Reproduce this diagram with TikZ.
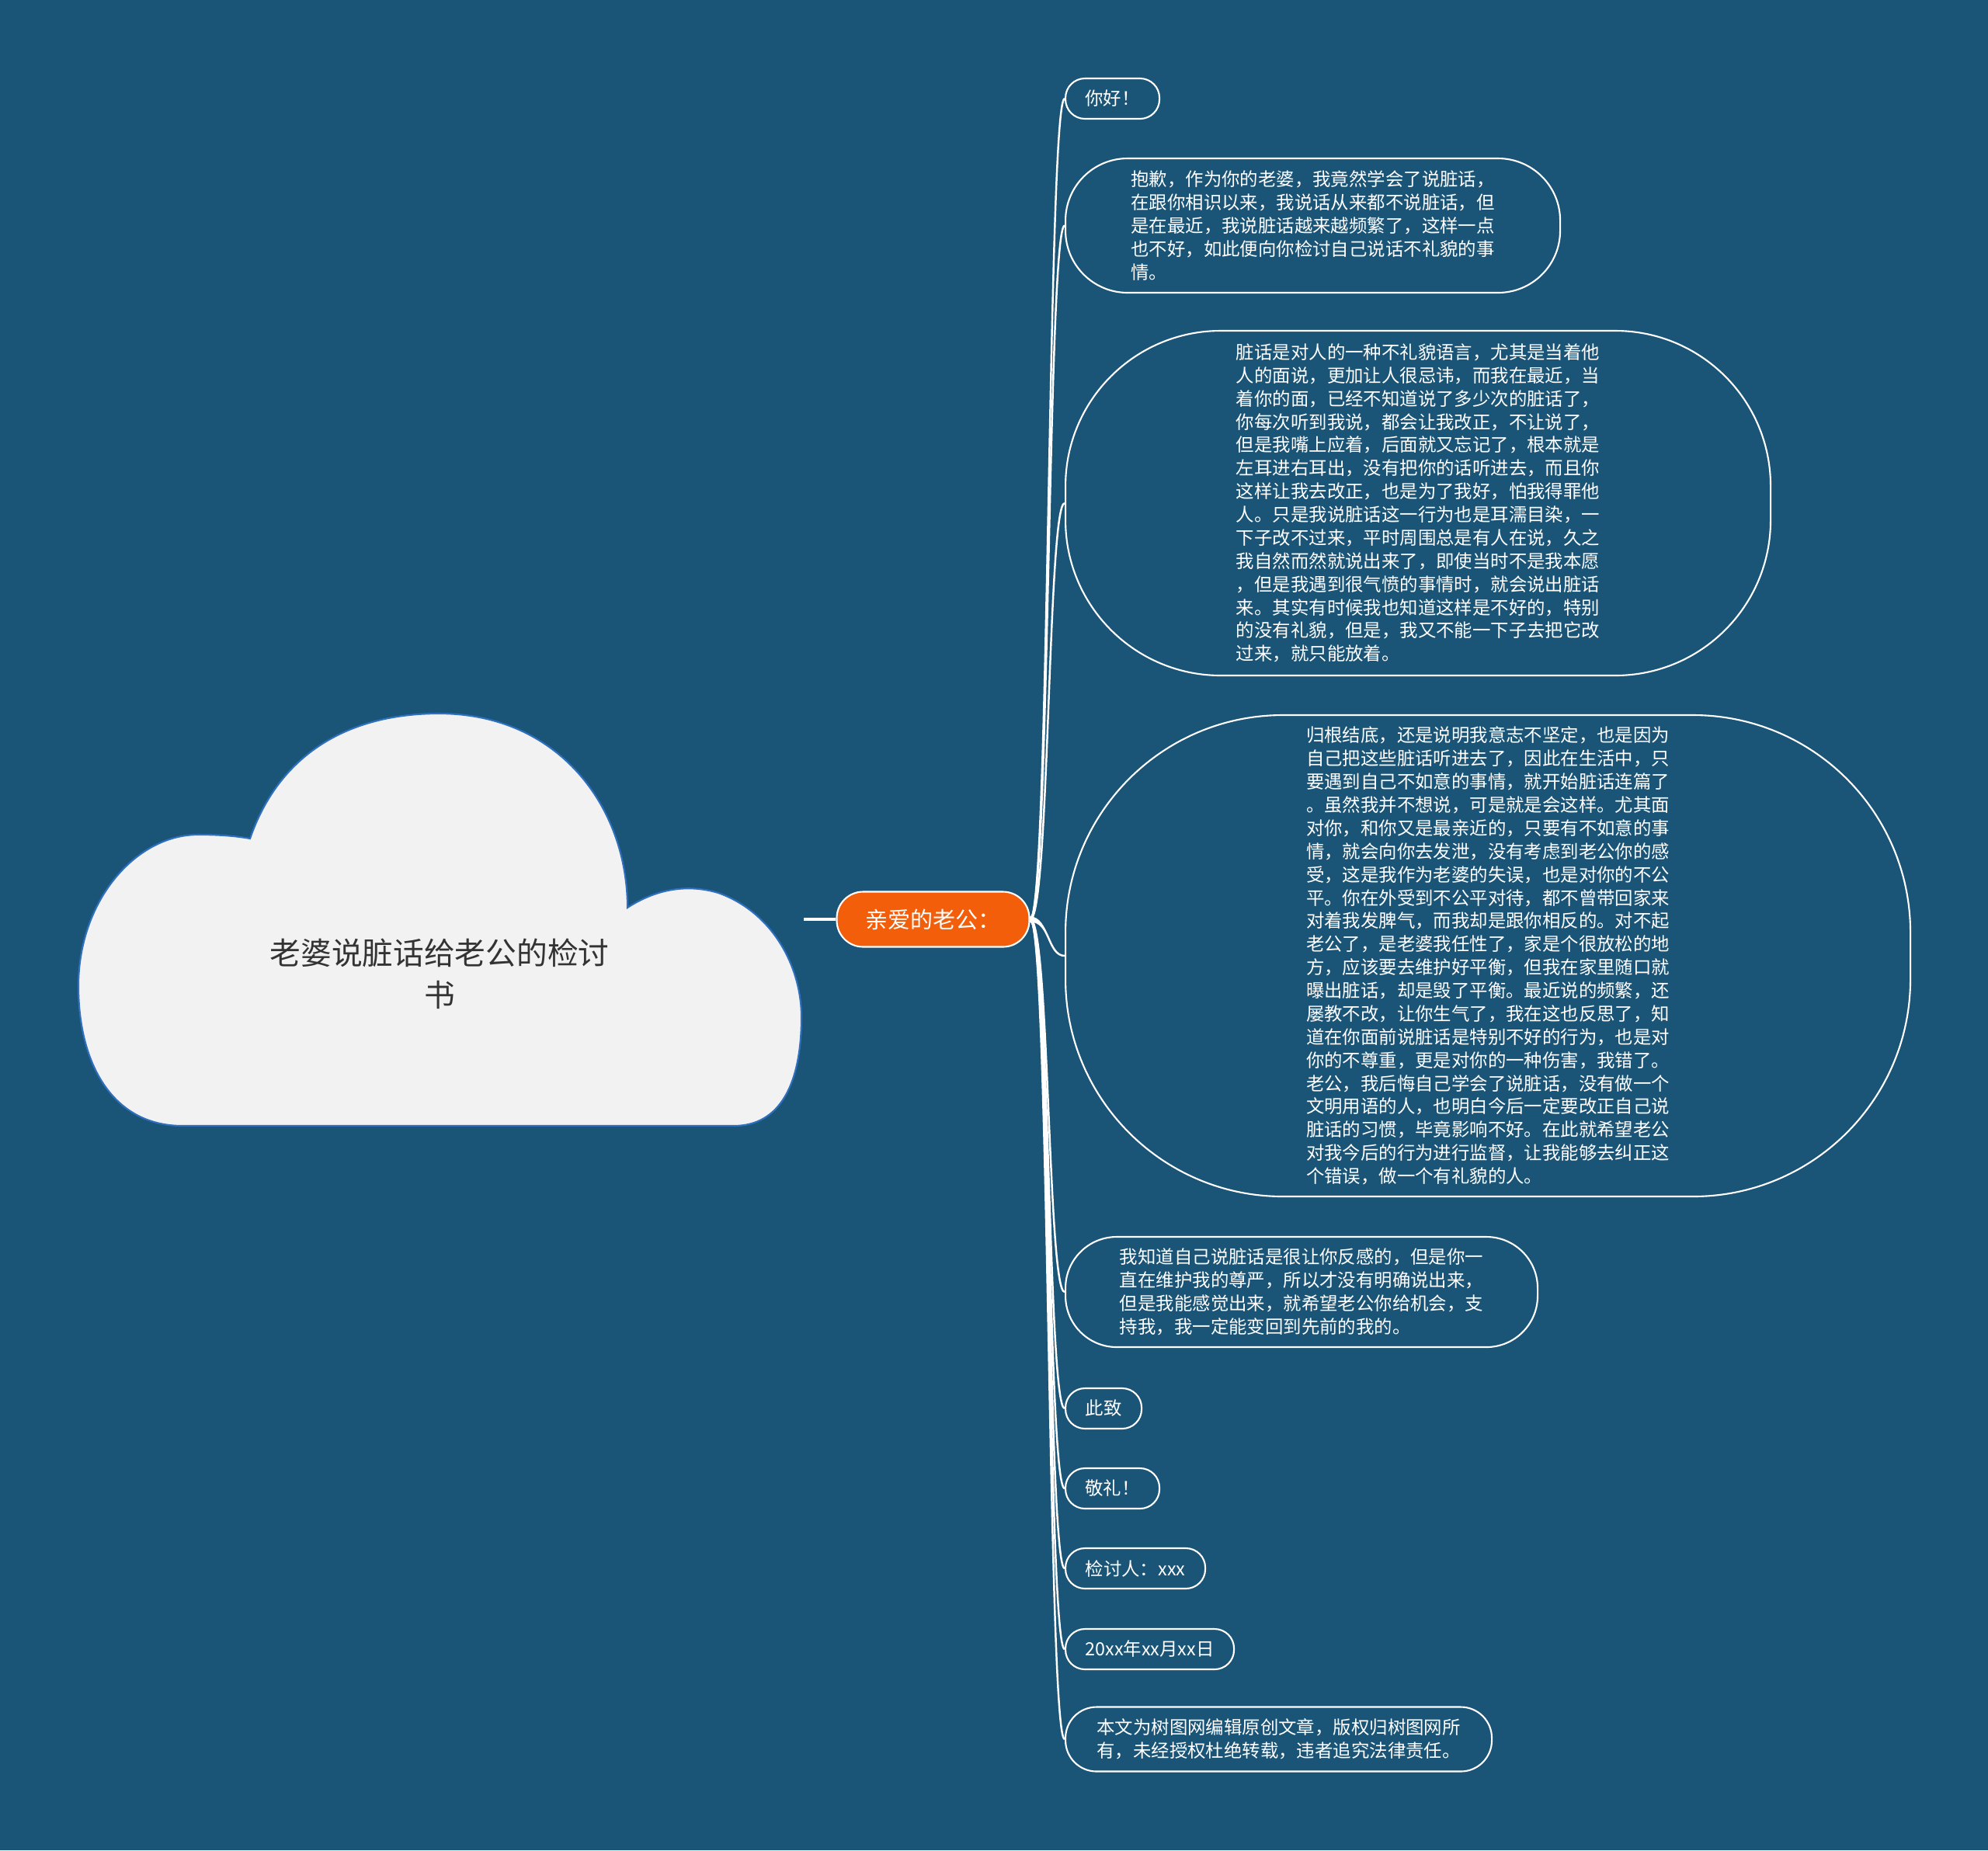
\documentclass[tikz,border=0pt]{standalone}
\usepackage{fontspec}
\setmainfont{Noto Sans CJK SC}
\usepackage{tikz}
\usetikzlibrary{positioning,calc}
\usepackage{xcolor}

\definecolor{bgblue}{RGB}{26,84,119}
\definecolor{cloudfill}{RGB}{242,242,242}
\definecolor{cloudline}{RGB}{46,111,190}
\definecolor{rootorange}{RGB}{243,94,10}
\definecolor{titlegray}{RGB}{51,51,51}

\tikzset{
  bubble/.style={draw=white, line width=0.6pt, text=white, anchor=west, inner sep=0pt,
    align=left, font=\fontsize{6.66}{8.5}\selectfont},
  link/.style={draw=white, line width=0.7pt},
}

\begin{document}
\begin{tikzpicture}
  \fill[bgblue] (0,0) rectangle (25.6,-23.83);
  \useasboundingbox (0,0) rectangle (25.6,-23.83);
  % cloud
  \filldraw[fill=cloudfill, draw=cloudline, line width=0.6pt]
    (3.22,-10.80) .. controls (3.6,-9.7) and (4.5,-9.19) .. (5.65,-9.19)
    .. controls (7.2,-9.19) and (8.08,-10.4) .. (8.08,-11.69)
    .. controls (8.45,-11.45) and (8.85,-11.38) .. (9.25,-11.5)
    .. controls (9.95,-11.75) and (10.32,-12.45) .. (10.32,-13.1)
    .. controls (10.32,-13.95) and (10.05,-14.5) .. (9.45,-14.5)
    -- (2.35,-14.5)
    .. controls (1.45,-14.5) and (1.01,-13.7) .. (1.01,-12.7)
    .. controls (1.01,-11.6) and (1.75,-10.75) .. (2.55,-10.75)
    .. controls (2.85,-10.75) and (3.05,-10.77) .. cycle;
  \node[text=titlegray, align=center, font=\fontsize{11.3}{15.3}\selectfont] (title) at (5.66,-12.54)
    {老婆说脏话给老公的检讨\\书};
  \coordinate (cloudtip) at (10.35,-11.84);

  \node[draw=white, line width=0.6pt, fill=rootorange, text=white, rounded corners=0.34cm,
    minimum width=2.48cm, minimum height=0.71cm, font=\fontsize{8.25}{10}\selectfont] (root) at (12.015,-11.84) {亲爱的老公：};
  \draw[link, line width=1.2pt] (cloudtip) -- (root.west);

  \node[bubble, rounded corners=0.25cm, minimum width=1.21cm, minimum height=0.52cm] (hello) at (13.71,-1.27) {你好！};
  \node[bubble, rounded corners=0.8cm, minimum width=6.37cm, minimum height=1.73cm] (sorry) at (13.71,-2.905)
    {抱歉，作为你的老婆，我竟然学会了说脏话，\\在跟你相识以来，我说话从来都不说脏话，但\\是在最近，我说脏话越来越频繁了，这样一点\\也不好，如此便向你检讨自己说话不礼貌的事\\情。};
  \node[bubble, rounded corners=2.0cm, minimum width=9.08cm, minimum height=4.44cm] (dirty) at (13.71,-6.48)
    {脏话是对人的一种不礼貌语言，尤其是当着他\\人的面说，更加让人很忌讳，而我在最近，当\\着你的面，已经不知道说了多少次的脏话了，\\你每次听到我说，都会让我改正，不让说了，\\但是我嘴上应着，后面就又忘记了，根本就是\\左耳进右耳出，没有把你的话听进去，而且你\\这样让我去改正，也是为了我好，怕我得罪他\\人。只是我说脏话这一行为也是耳濡目染，一\\下子改不过来，平时周围总是有人在说，久之\\我自然而然就说出来了，即使当时不是我本愿\\，但是我遇到很气愤的事情时，就会说出脏话\\来。其实有时候我也知道这样是不好的，特别\\的没有礼貌，但是，我又不能一下子去把它改\\过来，就只能放着。};
  \node[bubble, rounded corners=2.8cm, minimum width=10.88cm, minimum height=6.2cm] (reason) at (13.71,-12.31)
    {归根结底，还是说明我意志不坚定，也是因为\\自己把这些脏话听进去了，因此在生活中，只\\要遇到自己不如意的事情，就开始脏话连篇了\\。虽然我并不想说，可是就是会这样。尤其面\\对你，和你又是最亲近的，只要有不如意的事\\情，就会向你去发泄，没有考虑到老公你的感\\受，这是我作为老婆的失误，也是对你的不公\\平。你在外受到不公平对待，都不曾带回家来\\对着我发脾气，而我却是跟你相反的。对不起\\老公了，是老婆我任性了，家是个很放松的地\\方，应该要去维护好平衡，但我在家里随口就\\曝出脏话，却是毁了平衡。最近说的频繁，还\\屡教不改，让你生气了，我在这也反思了，知\\道在你面前说脏话是特别不好的行为，也是对\\你的不尊重，更是对你的一种伤害，我错了。\\老公，我后悔自己学会了说脏话，没有做一个\\文明用语的人，也明白今后一定要改正自己说\\脏话的习惯，毕竟影响不好。在此就希望老公\\对我今后的行为进行监督，让我能够去纠正这\\个错误，做一个有礼貌的人。};
  \node[bubble, rounded corners=0.66cm, minimum width=6.08cm, minimum height=1.42cm] (know) at (13.71,-16.64)
    {我知道自己说脏话是很让你反感的，但是你一\\直在维护我的尊严，所以才没有明确说出来，\\但是我能感觉出来，就希望老公你给机会，支\\持我，我一定能变回到先前的我的。};
  \node[bubble, rounded corners=0.25cm, minimum width=0.98cm, minimum height=0.52cm] (regards) at (13.71,-18.14) {此致};
  \node[bubble, rounded corners=0.25cm, minimum width=1.21cm, minimum height=0.52cm] (salute) at (13.71,-19.17) {敬礼！};
  \node[bubble, rounded corners=0.25cm, minimum width=1.80cm, minimum height=0.52cm] (signer) at (13.71,-20.20) {检讨人：xxx};
  \node[bubble, rounded corners=0.25cm, minimum width=2.17cm, minimum height=0.52cm] (date) at (13.71,-21.24) {20xx年xx月xx日};
  \node[bubble, rounded corners=0.4cm, minimum width=5.49cm, minimum height=0.83cm] (note) at (13.71,-22.40)
    {本文为树图网编辑原创文章，版权归树图网所\\有，未经授权杜绝转载，违者追究法律责任。};

  % tapered branches
  \foreach \c in {hello,sorry,dirty,reason,know,regards,salute,signer,date,note}{
    \fill[white] ($(root.east)+(0,0.035)$) .. controls +(0.25,0) and +(-0.22,0) .. (\c.west)
      .. controls +(-0.22,0) and +(0.25,0) .. ($(root.east)+(0,-0.035)$) -- cycle;
    \draw[link] (root.east) .. controls +(0.25,0) and +(-0.22,0) .. (\c.west);
  }
\end{tikzpicture}
\end{document}
